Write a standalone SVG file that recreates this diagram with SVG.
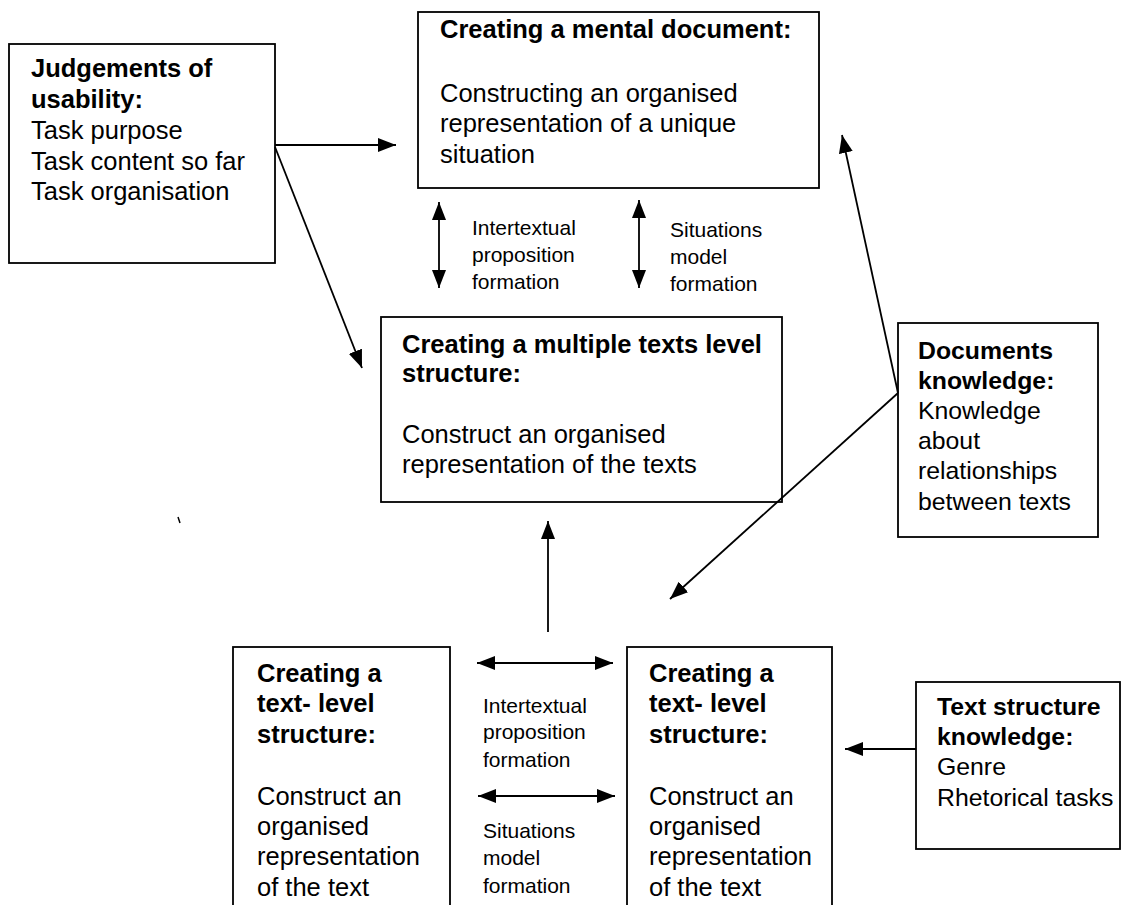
<svg xmlns="http://www.w3.org/2000/svg" width="1122" height="905" viewBox="0 0 1122 905">
<style>
.box{fill:#fff;stroke:#000;stroke-width:1.8}
.t{font-family:"Liberation Sans",Arial,sans-serif;font-size:25.5px;fill:#000}
.k{font-size:24.8px}
.b{font-weight:bold}
.s{font-family:"Liberation Sans",Arial,sans-serif;font-size:21px;fill:#000}
.ln{stroke:#000;stroke-width:1.8;fill:none}
</style>
<defs>
<marker id="ah" viewBox="0 0 18 14" refX="18" refY="7" markerWidth="18" markerHeight="14" markerUnits="userSpaceOnUse" orient="auto-start-reverse">
<path d="M0,0 L18,7 L0,14 Z" fill="#000"/>
</marker>
</defs>
<rect width="1122" height="905" fill="#fff"/>

<g id="judgements">
<rect class="box" x="9" y="44" width="266" height="219"/>
<text class="t b" x="31" y="77">Judgements of</text>
<text class="t b" x="31" y="108">usability:</text>
<text class="t" x="31" y="139">Task purpose</text>
<text class="t" x="31" y="170">Task content so far</text>
<text class="t" x="31" y="200">Task organisation</text>
</g>

<g id="mental-document">
<rect class="box" x="418" y="12" width="401" height="176"/>
<text class="t b" x="440" y="38">Creating a mental document:</text>
<text class="t" x="440" y="102">Constructing an organised</text>
<text class="t" x="440" y="132">representation of a unique</text>
<text class="t" x="440" y="163">situation</text>
</g>

<g id="multiple-texts">
<rect class="box" x="381" y="317" width="401" height="185"/>
<text class="t b" x="402" y="353">Creating a multiple texts level</text>
<text class="t b" x="402" y="382">structure:</text>
<text class="t" x="402" y="443">Construct an organised</text>
<text class="t" x="402" y="473">representation of the texts</text>
</g>

<g id="documents-knowledge">
<rect class="box" x="898" y="323" width="200" height="214"/>
<text class="t k b" x="918" y="359">Documents</text>
<text class="t k b" x="918" y="389">knowledge:</text>
<text class="t k" x="918" y="419">Knowledge</text>
<text class="t k" x="918" y="449">about</text>
<text class="t k" x="918" y="479">relationships</text>
<text class="t k" x="918" y="510">between texts</text>
</g>

<g id="text-level-left">
<rect class="box" x="233" y="647" width="217" height="270"/>
<text class="t b" x="257" y="682">Creating a</text>
<text class="t b" x="257" y="712">text- level</text>
<text class="t b" x="257" y="743">structure:</text>
<text class="t" x="257" y="805">Construct an</text>
<text class="t" x="257" y="835">organised</text>
<text class="t" x="257" y="865">representation</text>
<text class="t" x="257" y="896">of the text</text>
</g>

<g id="text-level-right">
<rect class="box" x="627" y="647" width="205" height="270"/>
<text class="t b" x="649" y="682">Creating a</text>
<text class="t b" x="649" y="712">text- level</text>
<text class="t b" x="649" y="743">structure:</text>
<text class="t" x="649" y="805">Construct an</text>
<text class="t" x="649" y="835">organised</text>
<text class="t" x="649" y="865">representation</text>
<text class="t" x="649" y="896">of the text</text>
</g>

<g id="text-structure-knowledge">
<rect class="box" x="916" y="682" width="204" height="167"/>
<text class="t k b" x="937" y="715">Text structure</text>
<text class="t k b" x="937" y="745">knowledge:</text>
<text class="t k" x="937" y="775">Genre</text>
<text class="t k" x="937" y="806">Rhetorical tasks</text>
</g>

<g id="connectors">
<line class="ln" x1="275" y1="145" x2="396" y2="145" marker-end="url(#ah)"/>
<line class="ln" x1="275" y1="147" x2="362" y2="368" marker-end="url(#ah)"/>
<line class="ln" x1="898" y1="393" x2="842" y2="135" marker-end="url(#ah)"/>
<line class="ln" x1="898" y1="393" x2="670" y2="599" marker-end="url(#ah)"/>
<line class="ln" x1="548" y1="632" x2="548" y2="521" marker-end="url(#ah)"/>
<line class="ln" x1="439" y1="202" x2="439" y2="288" marker-start="url(#ah)" marker-end="url(#ah)"/>
<line class="ln" x1="639" y1="200" x2="639" y2="288" marker-start="url(#ah)" marker-end="url(#ah)"/>
<line class="ln" x1="477" y1="663" x2="613" y2="663" marker-start="url(#ah)" marker-end="url(#ah)"/>
<line class="ln" x1="478" y1="796" x2="615" y2="796" marker-start="url(#ah)" marker-end="url(#ah)"/>
<line class="ln" x1="916" y1="749" x2="845" y2="749" marker-end="url(#ah)"/>
</g>

<g id="labels">
<text class="s" x="472" y="235">Intertextual</text>
<text class="s" x="472" y="262">proposition</text>
<text class="s" x="472" y="289">formation</text>
<text class="s" x="670" y="237">Situations</text>
<text class="s" x="670" y="264">model</text>
<text class="s" x="670" y="291">formation</text>
<text class="s" x="483" y="713">Intertextual</text>
<text class="s" x="483" y="739">proposition</text>
<text class="s" x="483" y="767">formation</text>
<text class="s" x="483" y="838">Situations</text>
<text class="s" x="483" y="865">model</text>
<text class="s" x="483" y="893">formation</text>
</g>

<path d="M178,517 L180,523" stroke="#000" stroke-width="1.5"/>
</svg>
